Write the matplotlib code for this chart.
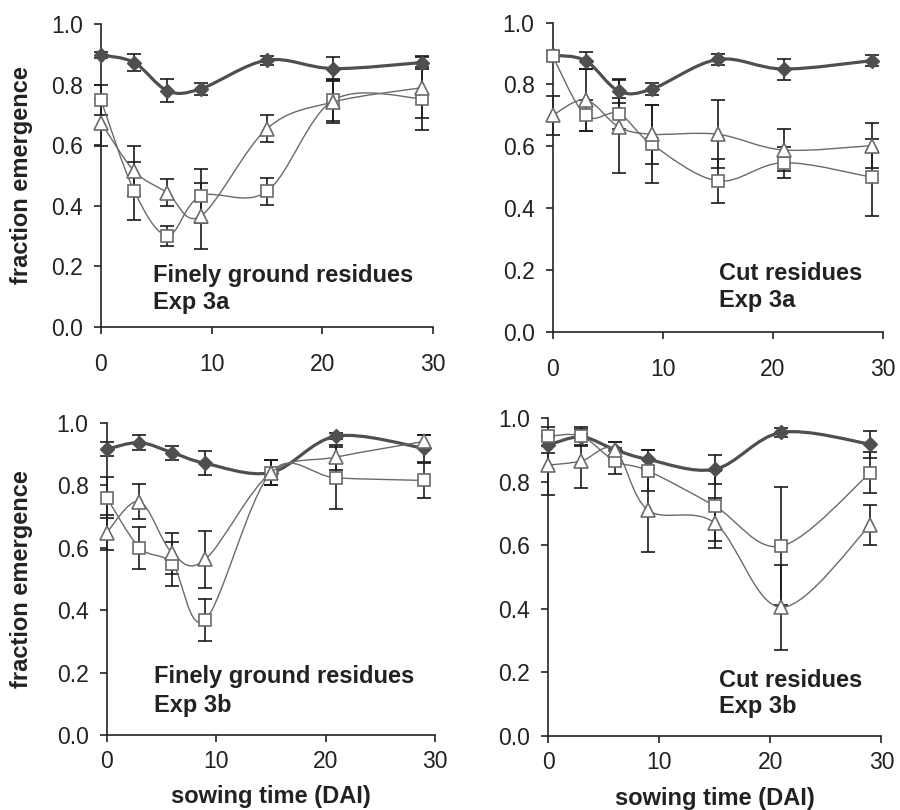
import numpy as np
import matplotlib
matplotlib.use("Agg")
import matplotlib.pyplot as plt
from matplotlib.path import Path
from matplotlib.patches import PathPatch

plt.rcParams['font.family'] = ['Liberation Sans', 'DejaVu Sans']

# ---------- Data ----------
days = [0, 3, 6, 9, 15, 21, 29]

# Finely ground residues, Exp 3a
fg3a_ctrl = [0.898, 0.873, 0.780, 0.786, 0.881, 0.853, 0.873]
fg3a_ctrl_err = [0.010, 0.027, 0.037, 0.020, 0.015, 0.038, 0.022]
fg3a_sq = [0.749, 0.449, 0.302, 0.432, 0.448, 0.749, 0.754]
fg3a_sq_err = [0.050, 0.097, 0.033, 0.090, 0.045, 0.070, 0.104]
fg3a_tri = [0.675, 0.515, 0.443, 0.366, 0.655, 0.743, 0.790]
fg3a_tri_err = [0.078, 0.082, 0.045, 0.110, 0.045, 0.070, 0.100]

# Cut residues, Exp 3a
cut3a_ctrl = [0.895, 0.877, 0.779, 0.785, 0.881, 0.850, 0.877]
cut3a_ctrl_err = [0.010, 0.027, 0.040, 0.020, 0.018, 0.034, 0.018]
cut3a_sq = [0.892, 0.700, 0.706, 0.607, 0.488, 0.547, 0.500]
cut3a_sq_err = [0.015, 0.050, 0.050, 0.125, 0.072, 0.050, 0.124]
cut3a_tri = [0.700, 0.750, 0.663, 0.639, 0.639, 0.588, 0.602]
cut3a_tri_err = [0.064, 0.100, 0.150, 0.095, 0.110, 0.068, 0.072]

# Finely ground residues, Exp 3b
fg3b_ctrl = [0.915, 0.936, 0.904, 0.870, 0.840, 0.957, 0.918]
fg3b_ctrl_err = [0.022, 0.025, 0.022, 0.038, 0.040, 0.010, 0.043]
fg3b_sq = [0.760, 0.600, 0.548, 0.368, 0.840, 0.823, 0.815]
fg3b_sq_err = [0.065, 0.067, 0.070, 0.068, 0.040, 0.100, 0.055]
fg3b_tri = [0.648, 0.747, 0.582, 0.562, 0.840, 0.890, 0.940]
fg3b_tri_err = [0.055, 0.057, 0.065, 0.090, 0.040, 0.040, 0.020]

# Cut residues, Exp 3b
cut3b_ctrl = [0.916, 0.942, 0.902, 0.871, 0.840, 0.956, 0.919]
cut3b_ctrl_err = [0.025, 0.025, 0.025, 0.030, 0.045, 0.015, 0.042]
cut3b_sq = [0.944, 0.944, 0.866, 0.835, 0.724, 0.598, 0.829]
cut3b_sq_err = [0.030, 0.030, 0.040, 0.065, 0.110, 0.187, 0.065]
cut3b_tri = [0.853, 0.866, 0.902, 0.711, 0.671, 0.405, 0.664]
cut3b_tri_err = [0.094, 0.086, 0.025, 0.133, 0.080, 0.133, 0.062]

panel_titles = [("Finely ground residues", "Exp 3a"),
                ("Cut residues", "Exp 3a"),
                ("Finely ground residues", "Exp 3b"),
                ("Cut residues", "Exp 3b")]

# ---------- Style ----------
CTRL_COLOR = '#4f4f4f'
OPEN_COLOR = '#6a6a6a'
ERR_COLOR = '#1a1a1a'
AXIS_COLOR = '#222222'
TEXT_COLOR = '#222222'


def smooth_path(x, y):
    """Excel-like smoothed line: cubic Bezier through each point."""
    pts = np.column_stack([x, y]).astype(float)
    n = len(pts)
    verts = [pts[0]]
    codes = [Path.MOVETO]
    for i in range(n - 1):
        p0 = pts[i - 1] if i > 0 else pts[i]
        p1 = pts[i]
        p2 = pts[i + 1]
        p3 = pts[i + 2] if i + 2 < n else pts[i + 1]
        verts += [p1 + (p2 - p0) / 6, p2 - (p3 - p1) / 6, p2]
        codes += [Path.CURVE4] * 3
    return Path(verts, codes)


def draw_panel(ax, ctrl, ctrl_err, sq, sq_err, tri, tri_err, title, text_pos, xpad):
    for vals, errs in [(ctrl, ctrl_err), (sq, sq_err), (tri, tri_err)]:
        ax.errorbar(days, vals, yerr=errs, fmt='none', ecolor=ERR_COLOR,
                    elinewidth=1.2, capsize=4.8, capthick=1.2, zorder=2, clip_on=False)

    ax.add_patch(PathPatch(smooth_path(days, ctrl), facecolor='none',
                           edgecolor=CTRL_COLOR, lw=2.3, zorder=3))
    ax.plot(days, ctrl, linestyle='none', marker='D', ms=7, color=CTRL_COLOR,
            mec=CTRL_COLOR, zorder=4, clip_on=False)

    ax.add_patch(PathPatch(smooth_path(days, sq), facecolor='none',
                           edgecolor=OPEN_COLOR, lw=1.0, zorder=5))
    ax.plot(days, sq, linestyle='none', marker='s', ms=8.5, mfc='white',
            mec=OPEN_COLOR, mew=1.2, zorder=6, clip_on=False)

    ax.add_patch(PathPatch(smooth_path(days, tri), facecolor='none',
                           edgecolor=OPEN_COLOR, lw=1.0, zorder=7))
    ax.plot(days, tri, linestyle='none', marker='^', ms=9.5, mfc='white',
            mec=OPEN_COLOR, mew=1.2, zorder=8, clip_on=False)

    ax.set_xlim(0, 30)
    ax.set_ylim(0, 1.0)
    ax.set_xticks([0, 10, 20, 30])
    ax.set_yticks(np.arange(0, 1.01, 0.2))
    ax.set_yticklabels([f"{v:.1f}" for v in np.arange(0, 1.01, 0.2)])
    for side in ['top', 'right']:
        ax.spines[side].set_visible(False)
    for side in ['left', 'bottom']:
        ax.spines[side].set_color(AXIS_COLOR)
        ax.spines[side].set_linewidth(1.2)
    ax.tick_params(direction='out', length=5, width=1.2, colors=AXIS_COLOR,
                   labelsize=16.5)
    ax.tick_params(axis='x', pad=xpad)
    ax.tick_params(axis='y', pad=8)

    tx, ty1, ty2 = text_pos
    ax.text(tx, ty1, title[0], fontsize=17, fontweight='bold', color=TEXT_COLOR, va='baseline')
    ax.text(tx, ty2, title[1], fontsize=17, fontweight='bold', color=TEXT_COLOR, va='baseline')


fig = plt.figure(figsize=(9, 8.1), dpi=100)

ax1 = fig.add_axes([0.1122, 0.5963, 0.369, 0.374])
ax2 = fig.add_axes([0.614, 0.5905, 0.3667, 0.3815])
ax3 = fig.add_axes([0.1185, 0.0926, 0.3648, 0.3856])
ax4 = fig.add_axes([0.609, 0.0914, 0.3704, 0.392])

draw_panel(ax1, fg3a_ctrl, fg3a_ctrl_err, fg3a_sq, fg3a_sq_err, fg3a_tri, fg3a_tri_err,
           panel_titles[0], (4.7, 0.149, 0.060), 14)
draw_panel(ax2, cut3a_ctrl, cut3a_ctrl_err, cut3a_sq, cut3a_sq_err, cut3a_tri, cut3a_tri_err,
           panel_titles[1], (15.15, 0.167, 0.081), 14)
draw_panel(ax3, fg3b_ctrl, fg3b_ctrl_err, fg3b_sq, fg3b_sq_err, fg3b_tri, fg3b_tri_err,
           panel_titles[2], (4.33, 0.165, 0.075), 6)
draw_panel(ax4, cut3b_ctrl, cut3b_ctrl_err, cut3b_sq, cut3b_sq_err, cut3b_tri, cut3b_tri_err,
           panel_titles[3], (15.4, 0.155, 0.071), 6)

for ax, xc in [(ax1, -0.238), (ax3, -0.258)]:
    ax.set_ylabel("fraction emergence", fontsize=17, fontweight='bold', color=TEXT_COLOR,
                  va='center')
    ax.yaxis.set_label_coords(xc, 0.5)

for ax in [ax3, ax4]:
    ax.set_xlabel("sowing time (DAI)", fontsize=17, fontweight='bold', color=TEXT_COLOR)
    ax.xaxis.set_label_coords(0.5, -0.16)

fig.savefig('out.png', dpi=100)
